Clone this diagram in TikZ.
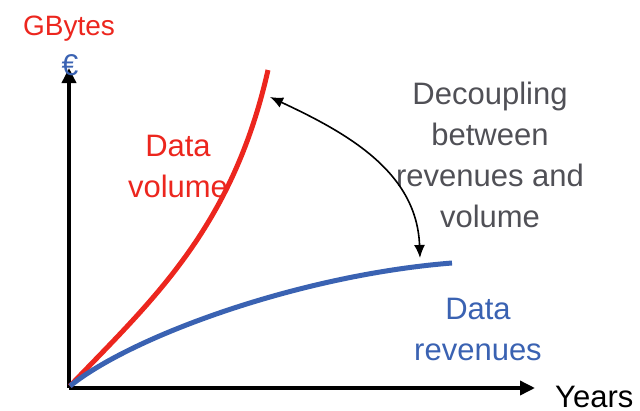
\documentclass[tikz,border=0pt]{standalone}
\usepackage{fontspec}
\setmainfont{Liberation Sans}
\usetikzlibrary{arrows.meta}
\definecolor{volred}{RGB}{236,38,30}
\definecolor{revblue}{RGB}{58,98,178}
\definecolor{notegray}{RGB}{80,80,86}
\begin{document}
\begin{tikzpicture}[x=1pt,y=-1pt,
    axis/.style={line width=3.5pt,-{Triangle[length=15pt,width=14pt]}},
    curve/.style={line width=5pt},
    txt/.style={font=\fontsize{31}{41}\selectfont,align=center,anchor=base,inner sep=0pt}]
    \useasboundingbox (0,0) rectangle (640,410);
    \coordinate (o) at (69,388);
    \coordinate (ytop) at (69,68);
    \coordinate (xend) at (535,388);
    \draw[axis] (o) -- (ytop);
    \draw[axis] (o) -- (xend);
    % curves
    \draw[curve,volred] (70,386) .. controls (150,302) and (232,230) .. (268,70);
    \draw[curve,revblue] (70,386) .. controls (132,336) and (300,275) .. (452,263);
    % labels
    \node[txt,volred,font=\fontsize{28}{34}\selectfont] (gb) at (69,35) {GBytes};
    \node[txt,revblue,font=\fontsize{30}{34}\selectfont] (eur) at (70,75) {€};
    \node[txt,volred] (vol) at (178,197) {Data\\volume};
    \node[txt,revblue] (rev) at (478,360) {Data\\revenues};
    \node[txt,anchor=base west] (yrs) at (555,407) {Years};
    \node[txt,notegray] (dec) at (490,227) {Decoupling\\between\\revenues and\\volume};
    \coordinate (vtip) at (270,97);
    \coordinate (rtip) at (420,258);
    \draw[line width=1.6pt,{Latex[length=13pt,width=11pt]}-{Latex[length=13pt,width=11pt]}] (vtip) to[out=-25,in=92] (rtip);
\end{tikzpicture}
\end{document}
